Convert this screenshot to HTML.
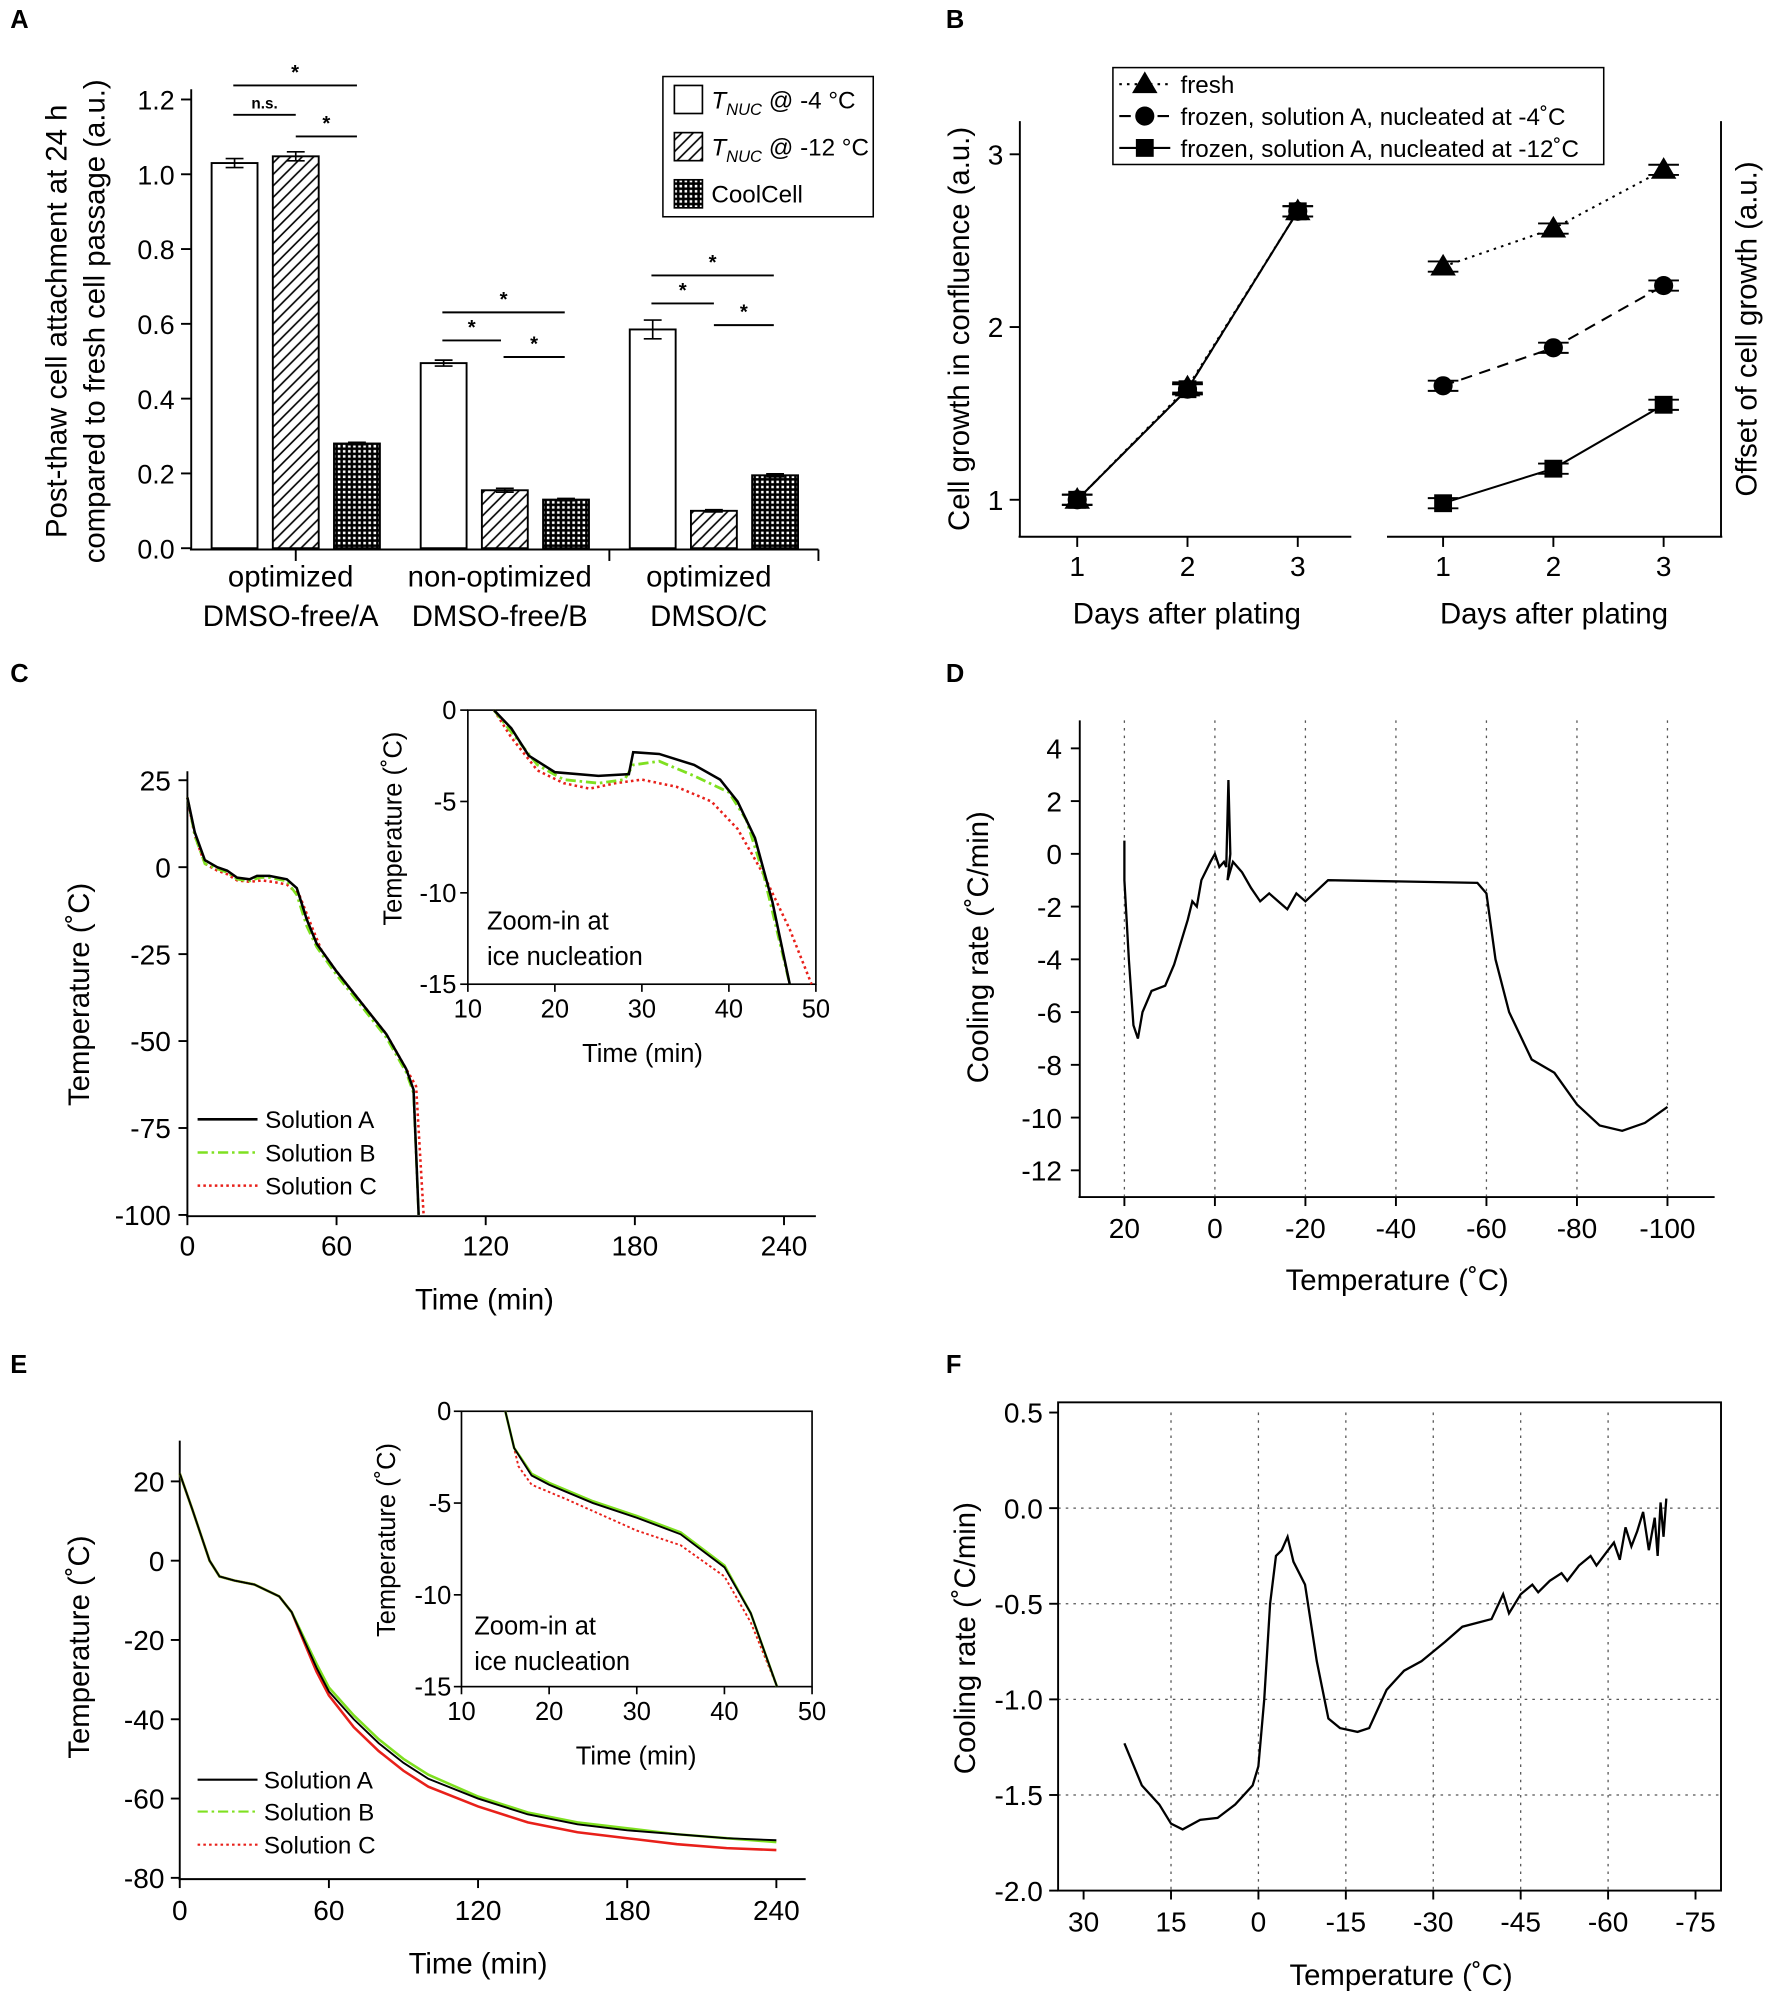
<!DOCTYPE html>
<html><head><meta charset="utf-8"><style>
html,body{margin:0;padding:0;background:#fff}
svg{display:block;font-family:"Liberation Sans",Arial,sans-serif}
</style></head><body>
<svg id="fig" width="1772" height="1999" viewBox="0 0 1390 1568" xmlns="http://www.w3.org/2000/svg">
<defs>
<pattern id="hatch" patternUnits="userSpaceOnUse" width="9" height="9"><path d="M-2,11 L11,-2 M-2,2 L2,-2 M7,11 L11,7" stroke="#000" stroke-width="1.3"/></pattern>
<pattern id="dots" patternUnits="userSpaceOnUse" width="4" height="4"><rect width="4" height="4" fill="#000"/><rect x="1" y="1" width="2" height="2" fill="#fff"/></pattern>
</defs>
</svg>
<script>
// ---------- data ----------
const aCategories=["optimized|DMSO-free/A","non-optimized|DMSO-free/B","optimized|DMSO/C"];
const aOpen=[1.03,0.495,0.585];
const aHatch=[1.048,0.155,0.1];
const aCool=[0.28,0.13,0.195];
const aErr=[[0.012,0.012,0.003],[0.008,0.005,0.003],[0.025,0.003,0.004]];
const aTicks=[0,0.2,0.4,0.6,0.8,1.0,1.2];
const bDays=[1,2,3];
const bLeftFresh=[1.0,1.65,2.67];
const bLeftFrozen=[1.0,1.64,2.67];
const bFresh=[2.35,2.57,2.91];
const bM4=[1.66,1.88,2.24];
const bM12=[0.98,1.18,1.55];
const cA=[[0,20],[3,10],[7,2],[12,0],[16,-1],[20,-3],[25,-3.5],[28,-2.5],[33,-2.5],[40,-3.5],[44,-6],[48,-15],[52,-22],[60,-30],[70,-39],[80,-48],[88,-58],[91,-64],[93,-100]];
const cB=[[0,20],[3,9],[7,1],[12,-0.5],[16,-1.5],[20,-3.5],[25,-4],[29,-3],[33,-3],[40,-4],[44,-8],[48,-17],[52,-23],[60,-31],[70,-40],[80,-49],[88,-59],[91,-65],[93,-100]];
const cC=[[0,20],[3,9],[7,1],[12,-1],[16,-2],[20,-3.8],[25,-4.2],[30,-3.8],[35,-4.3],[40,-5],[45,-8],[50,-17],[54,-24],[60,-30],[70,-39],[80,-48],[88,-58],[92,-63],[95,-100]];
const ciA=[[13,0],[15,-1],[17,-2.5],[20,-3.4],[25,-3.6],[28.5,-3.5],[29,-2.3],[32,-2.4],[36,-3],[39,-3.8],[41,-5],[43,-7],[45,-10.5],[47,-15]];
const ciB=[[13,0],[15,-1.2],[18,-3],[21,-3.8],[25,-4],[28,-3.8],[29,-3],[32,-2.8],[36,-3.6],[40,-4.5],[42,-6],[44,-9],[47,-15]];
const ciC=[[13,0],[15,-1.5],[18,-3.3],[21,-4],[24,-4.3],[27,-4],[30,-3.8],[34,-4.2],[38,-5],[41,-6.5],[44,-9],[47,-12],[49.5,-15]];
const dRate=[[20,0.5],[20,-1],[19,-4],[18,-6.5],[17,-7],[16,-6],[14,-5.2],[11,-5],[9,-4.2],[6,-2.5],[5,-1.8],[4,-2],[3,-1],[1,-0.3],[0,0],[-1,-0.5],[-2,-0.3],[-2.5,-0.5],[-3,2.8],[-3.4,0],[-2.8,-1],[-4,-0.3],[-6,-0.7],[-8,-1.3],[-10,-1.8],[-12,-1.5],[-14,-1.8],[-16,-2.1],[-18,-1.5],[-20,-1.8],[-25,-1],[-58,-1.1],[-60,-1.5],[-62,-4],[-65,-6],[-70,-7.8],[-75,-8.3],[-80,-9.5],[-85,-10.3],[-90,-10.5],[-95,-10.2],[-100,-9.6]];
const eA=[[0,22],[5,13],[12,0],[16,-4],[22,-5],[30,-6],[40,-9],[45,-13],[50,-20],[55,-27],[60,-33],[70,-40],[80,-46],[90,-51],[100,-55],[120,-60],[140,-64],[160,-66.5],[180,-68],[200,-69],[220,-70],[240,-70.5]];
const eB=[[0,22],[5,13],[12,0],[16,-4],[22,-5],[30,-6],[40,-9],[45,-13],[50,-19.5],[55,-26],[60,-32],[70,-39],[80,-45],[90,-50],[100,-54],[120,-59.5],[140,-63.5],[160,-66],[180,-67.5],[200,-69],[220,-70],[240,-71]];
const eC=[[0,22],[5,13],[12,0],[16,-4],[22,-5],[30,-6],[40,-9],[45,-13],[50,-20.5],[55,-28],[60,-34],[70,-42],[80,-48],[90,-53],[100,-57],[120,-62],[140,-66],[160,-68.5],[180,-70],[200,-71.5],[220,-72.5],[240,-73]];
const eiA=[[15,0],[16,-2],[18,-3.5],[20,-4],[25,-5],[30,-5.8],[35,-6.7],[40,-8.5],[43,-11],[46,-15]];
const eiB=[[15,0],[16,-2],[18,-3.4],[20,-3.9],[25,-4.9],[30,-5.7],[35,-6.6],[40,-8.4],[43,-11],[46,-15]];
const eiC=[[15,0],[16.5,-3],[18,-4],[22,-4.8],[30,-6.5],[35,-7.3],[40,-9],[43,-11.5],[46,-15]];
const fRate=[[23,-1.23],[20,-1.45],[17,-1.55],[15,-1.65],[13,-1.68],[10,-1.63],[7,-1.62],[4,-1.55],[1,-1.45],[0,-1.35],[-1,-1],[-2,-0.5],[-3,-0.25],[-4,-0.22],[-5,-0.15],[-6,-0.28],[-8,-0.4],[-10,-0.8],[-12,-1.1],[-14,-1.15],[-17,-1.17],[-19,-1.15],[-22,-0.95],[-25,-0.85],[-28,-0.8],[-32,-0.7],[-35,-0.62],[-40,-0.58],[-42,-0.45],[-43,-0.55],[-45,-0.45],[-47,-0.4],[-48,-0.44],[-50,-0.38],[-52,-0.34],[-53,-0.38],[-55,-0.3],[-57,-0.25],[-58,-0.3],[-60,-0.22],[-61,-0.18],[-62,-0.27],[-63,-0.1],[-64,-0.2],[-65,-0.12],[-66,-0.02],[-67,-0.22],[-68,-0.05],[-68.5,-0.25],[-69,0.03],[-69.5,-0.15],[-70,0.05]];

// ---------- helpers ----------
const svg=document.getElementById('fig');const NS='http://www.w3.org/2000/svg';
function el(tag,attrs,parent){const e=document.createElementNS(NS,tag);for(const k in attrs)e.setAttribute(k,attrs[k]);(parent||svg).appendChild(e);return e;}
function txt(x,y,s,size,anchor,parent,extra){const t=el('text',Object.assign({x:x,y:y,'font-size':size,'text-anchor':anchor||'middle',fill:'#000'},extra||{}),parent);t.textContent=s;return t;}
function lin(d0,d1,r0,r1){return v=>r0+(v-d0)*(r1-r0)/(d1-d0);}
function line(x1,y1,x2,y2,w,parent,dash){return el('line',{x1,y1,x2,y2,stroke:'#000','stroke-width':w||1.5,'stroke-dasharray':dash||'none'},parent);}
function path(pts,X,Y,color,w,dash,parent){const d=pts.map((p,i)=>(i?'L':'M')+X(p[0]).toFixed(1)+','+Y(p[1]).toFixed(1)).join(' ');return el('path',{d,fill:'none',stroke:color,'stroke-width':w,'stroke-dasharray':dash||'none'},parent);}
function group(){return el('g',{});}

// panel letters
[['A',8,22],['B',742,22],['C',8,535],['D',742,535],['E',8,1077],['F',742,1077]].forEach(l=>{const t=txt(l[1],l[2],l[0],20,'start',null,{'font-weight':'bold'});

});

// ---------- Panel A ----------
{const g=group();


const Y=lin(0,1.2,430,78);
line(150,70,150,431,1.5,g);line(149,431,642,431,1.5,g);
aTicks.forEach(t=>{line(142,Y(t),150,Y(t),1.5,g);txt(137,Y(t)+8,t.toFixed(1),21,'end',g);});
[232,478,642].forEach(x=>line(x,431,x,440,1.5,g));
const gx=[232,396,560];const off=[-48,0,48];const fills=['#fff','url(#hatch)','url(#dots)'];const series=[aOpen,aHatch,aCool];
gx.forEach((cx,ci)=>{series.forEach((s,si)=>{const x=cx+off[si]-18;const r=el('rect',{x:x,y:Y(s[ci]),width:36,height:Y(0)-Y(s[ci]),fill:fills[si],stroke:'#000','stroke-width':1.5},g);


const e=aErr[ci][si];const xm=x+18;line(xm,Y(s[ci]+e),xm,Y(s[ci]-e),1.3,g);line(xm-7,Y(s[ci]+e),xm+7,Y(s[ci]+e),1.3,g);line(xm-7,Y(s[ci]-e),xm+7,Y(s[ci]-e),1.3,g);});
const parts=aCategories[ci].split('|');txt(cx-4,460,parts[0],23,'middle',g);txt(cx-4,491,parts[1],23,'middle',g);});
// significance
[[183,280,67,'*'],[183,232,90,'n.s.'],[232,280,107,'*'],[347,443,245,'*'],[347,393,267,'*'],[395,443,280,'*'],[511,607,216,'*'],[511,560,238,'*'],[560,607,255,'*']].forEach(s=>{line(s[0],s[2],s[1],s[2],1.5,g);txt((s[0]+s[1])/2,s[2]-5,s[3],s[3]=='*'?16:12,'middle',g,{'font-weight':'bold'});});
const yt=txt(0,0,'Post-thaw cell attachment at 24 h',23,'middle',g,{transform:'translate(52,252) rotate(-90)'});
txt(0,0,'compared to fresh cell passage (a.u.)',23,'middle',g,{transform:'translate(82,252) rotate(-90)'});


const lg=el('g',{},g);


el('rect',{x:520,y:60,width:165,height:110,fill:'#fff',stroke:'#000','stroke-width':1.2},lg);
[['#fff',78],['url(#hatch)',115],['url(#dots)',152]].forEach(r=>el('rect',{x:529,y:r[1]-11,width:22,height:22,fill:r[0],stroke:'#000','stroke-width':1.3},lg));
const l1=txt(558,85,'',19,'start',lg);l1.innerHTML='<tspan font-style="italic">T</tspan><tspan font-style="italic" font-size="13" dy="5">NUC</tspan><tspan dy="-5"> @ -4 °C</tspan>';
const l2=txt(558,122,'',19,'start',lg);l2.innerHTML='<tspan font-style="italic">T</tspan><tspan font-style="italic" font-size="13" dy="5">NUC</tspan><tspan dy="-5"> @ -12 °C</tspan>';
txt(558,159,'CoolCell',19,'start',lg);}

// ---------- Panel B ----------
{const g=group();


const Y=lin(1,3,392,121);
const XL=lin(1,3,845,1018),XR=lin(1,3,1132,1305);
line(800,95,800,421,1.5,g);line(799,421,1060,421,1.5,g);line(1088,421,1351,421,1.5,g);line(1350,95,1350,421,1.5,g);
[1,2,3].forEach(t=>{line(792,Y(t),800,Y(t),1.5,g);txt(787,Y(t)+8,String(t),22,'end',g);});
bDays.forEach(d=>{line(XL(d),421,XL(d),429,1.5,g);txt(XL(d),452,String(d),22,'middle',g);line(XR(d),421,XR(d),429,1.5,g);txt(XR(d),452,String(d),22,'middle',g);});
txt(931,489,'Days after plating',23,'middle',g);txt(1219,489,'Days after plating',23,'middle',g);
txt(0,0,'Cell growth in confluence (a.u.)',23,'middle',g,{transform:'translate(760,258) rotate(-90)'});
txt(0,0,'Offset of cell growth (a.u.)',23,'middle',g,{transform:'translate(1378,258) rotate(-90)'});
function marker(x,y,type,parent){if(type=='tri')el('path',{d:`M${x},${y-10} L${x+10},${y+7} L${x-10},${y+7} Z`,fill:'#000'},parent);else if(type=='circ')el('circle',{cx:x,cy:y,r:7.5,fill:'#000'},parent);else el('rect',{x:x-7,y:y-7,width:14,height:14,fill:'#000'},parent);}
function err(x,y,parent){line(x-12,y-4,x+12,y-4,1.5,parent);line(x-12,y+4,x+12,y+4,1.5,parent);line(x,y-4,x,y+4,1.5,parent);}
const dashes={tri:'2,4',circ:'9,6',sq:'none'};
[[bLeftFresh,'tri',XL],[bLeftFrozen,'sq',XL],[bLeftFrozen,'circ',XL],[bFresh,'tri',XR],[bM4,'circ',XR],[bM12,'sq',XR]].forEach(s=>{
path(bDays.map((d,i)=>[d,s[0][i]]),s[2],Y,'#000',1.6,dashes[s[1]],g);
bDays.forEach((d,i)=>{err(s[2](d),Y(s[0][i]),g);marker(s[2](d),Y(s[0][i]),s[1],g);});});
const lg=el('g',{},g);


el('rect',{x:873,y:53,width:385,height:76,fill:'#fff',stroke:'#000','stroke-width':1.2},lg);
[['tri',66,'fresh'],['circ',91,'frozen, solution A, nucleated at -4˚C'],['sq',116,'frozen, solution A, nucleated at -12˚C']].forEach(r=>{line(878,r[1],918,r[1],1.6,lg,dashes[r[0]]);marker(898,r[1],r[0],lg);txt(926,r[1]+7,r[2],19,'start',lg);});}

// ---------- Panel C ----------
{const g=group();


const X=lin(0,240,147,615),Y=lin(25,-100,612,953);
line(147,605,147,954,1.5,g);line(146,954,640,954,1.5,g);
[25,0,-25,-50,-75,-100].forEach(t=>{line(140,Y(t),147,Y(t),1.5,g);txt(134,Y(t)+8,String(t),22,'end',g);});
[0,60,120,180,240].forEach(t=>{line(X(t),954,X(t),961,1.5,g);txt(X(t),985,String(t),22,'middle',g);});
txt(380,1027,'Time (min)',23,'middle',g);
txt(0,0,'Temperature (˚C)',23,'middle',g,{transform:'translate(70,780) rotate(-90)'});
path(cC,X,Y,'#e8201a',2,'2,2.5',g);path(cB,X,Y,'#7fe020',2,'8,3,2,3',g);path(cA,X,Y,'#000',2,'none',g);
[['#000','none','Solution A',878],['#7fe020','8,3,2,3','Solution B',904],['#e8201a','2,2.5','Solution C',930]].forEach(l=>{line(155,l[3],202,l[3],2,g,l[1]).setAttribute('stroke',l[0]);txt(208,l[3]+7,l[2],19,'start',g);});
const ig=el('g',{},g);


const XI=lin(10,50,367,640),YI=lin(0,-15,557,772);
el('rect',{x:367,y:557,width:273,height:215,fill:'#fff',stroke:'#000','stroke-width':1.3},ig);
[0,-5,-10,-15].forEach(t=>{line(361,YI(t),367,YI(t),1.3,ig);txt(358,YI(t)+7,String(t),20,'end',ig);});
[10,20,30,40,50].forEach(t=>{line(XI(t),772,XI(t),778,1.3,ig);txt(XI(t),798,String(t),20,'middle',ig);});
txt(504,833,'Time (min)',20,'middle',ig);
txt(0,0,'Temperature (˚C)',20,'middle',ig,{transform:'translate(315,650) rotate(-90)'});
txt(382,729,'Zoom-in at',20,'start',ig);txt(382,757,'ice nucleation',20,'start',ig);
path(ciC,XI,YI,'#e8201a',2,'2,2.5',ig);path(ciB,XI,YI,'#7fe020',2.2,'8,3,2,3',ig);path(ciA,XI,YI,'#000',2,'none',ig);}

// ---------- Panel D ----------
{const g=group();


const X=lin(20,-100,882,1308),Y=lin(4,-12,587,918);
[20,0,-20,-40,-60,-80,-100].forEach(t=>line(X(t),565,X(t),938,1,g,'2,4').setAttribute('stroke','#555'));
line(847,565,847,939,1.5,g);line(846,939,1345,939,1.5,g);
[4,2,0,-2,-4,-6,-8,-10,-12].forEach(t=>{line(840,Y(t),847,Y(t),1.5,g);txt(833,Y(t)+8,String(t),22,'end',g);});
[20,0,-20,-40,-60,-80,-100].forEach(t=>{line(X(t),939,X(t),946,1.5,g);txt(X(t),971,String(t),22,'middle',g);});
txt(1096,1012,'Temperature (˚C)',23,'middle',g);
txt(0,0,'Cooling rate (˚C/min)',23,'middle',g,{transform:'translate(775,743) rotate(-90)'});
path(dRate,X,Y,'#000',1.8,'none',g);}

// ---------- Panel E ----------
{const g=group();


const X=lin(0,240,141,609),Y=lin(20,-80,1162,1473);
line(141,1130,141,1474,1.5,g);line(140,1474,632,1474,1.5,g);
[20,0,-20,-40,-60,-80].forEach(t=>{line(134,Y(t),141,Y(t),1.5,g);txt(129,Y(t)+8,String(t),22,'end',g);});
[0,60,120,180,240].forEach(t=>{line(X(t),1474,X(t),1481,1.5,g);txt(X(t),1506,String(t),22,'middle',g);});
txt(375,1548,'Time (min)',23,'middle',g);
txt(0,0,'Temperature (˚C)',23,'middle',g,{transform:'translate(70,1292) rotate(-90)'});
path(eC,X,Y,'#e8201a',2,'none',g);path(eB,X,Y,'#7fe020',2,'none',g);path(eA,X,Y,'#000',1.5,'none',g);
[['#000','none','Solution A',1396],['#7fe020','8,3,2,3','Solution B',1421],['#e8201a','2,2.5','Solution C',1447]].forEach(l=>{line(155,l[3],202,l[3],1.6,g,l[1]).setAttribute('stroke',l[0]);txt(207,l[3]+7,l[2],19,'start',g);});
const ig=el('g',{},g);


const XI=lin(10,50,362,637),YI=lin(0,-15,1107,1323);
el('rect',{x:362,y:1107,width:275,height:216,fill:'#fff',stroke:'#000','stroke-width':1.3},ig);
[0,-5,-10,-15].forEach(t=>{line(356,YI(t),362,YI(t),1.3,ig);txt(354,YI(t)+7,String(t),20,'end',ig);});
[10,20,30,40,50].forEach(t=>{line(XI(t),1323,XI(t),1329,1.3,ig);txt(XI(t),1349,String(t),20,'middle',ig);});
txt(499,1384,'Time (min)',20,'middle',ig);
txt(0,0,'Temperature (˚C)',20,'middle',ig,{transform:'translate(310,1208) rotate(-90)'});
txt(372,1282,'Zoom-in at',20,'start',ig);txt(372,1310,'ice nucleation',20,'start',ig);
path(eiC,XI,YI,'#e8201a',1.5,'2,2',ig);path(eiB,XI,YI,'#7fe020',2,'none',ig);path(eiA,XI,YI,'#000',1.5,'none',ig);}

// ---------- Panel F ----------
{const g=group();


const X=lin(30,-75,850,1330),Y=lin(0.5,-2.0,1108,1483);
[15,0,-15,-30,-45,-60].forEach(t=>line(X(t),1108,X(t),1483,1,g,'2,4').setAttribute('stroke','#555'));
[0,-0.5,-1,-1.5].forEach(t=>line(830,Y(t),1350,Y(t),1,g,'2,4').setAttribute('stroke','#555'));
el('rect',{x:830,y:1100,width:520,height:383,fill:'none',stroke:'#000','stroke-width':1.5},g);
[0.5,0,-0.5,-1,-1.5,-2].forEach(t=>{line(823,Y(t),830,Y(t),1.5,g);txt(818,Y(t)+8,t.toFixed(1),22,'end',g);});
[30,15,0,-15,-30,-45,-60,-75].forEach(t=>{line(X(t),1483,X(t),1490,1.5,g);txt(X(t),1515,String(t),22,'middle',g);});
txt(1099,1557,'Temperature (˚C)',23,'middle',g);
txt(0,0,'Cooling rate (˚C/min)',23,'middle',g,{transform:'translate(765,1285) rotate(-90)'});
path(fRate,X,Y,'#000',1.8,'none',g);}
</script>
</body></html>
